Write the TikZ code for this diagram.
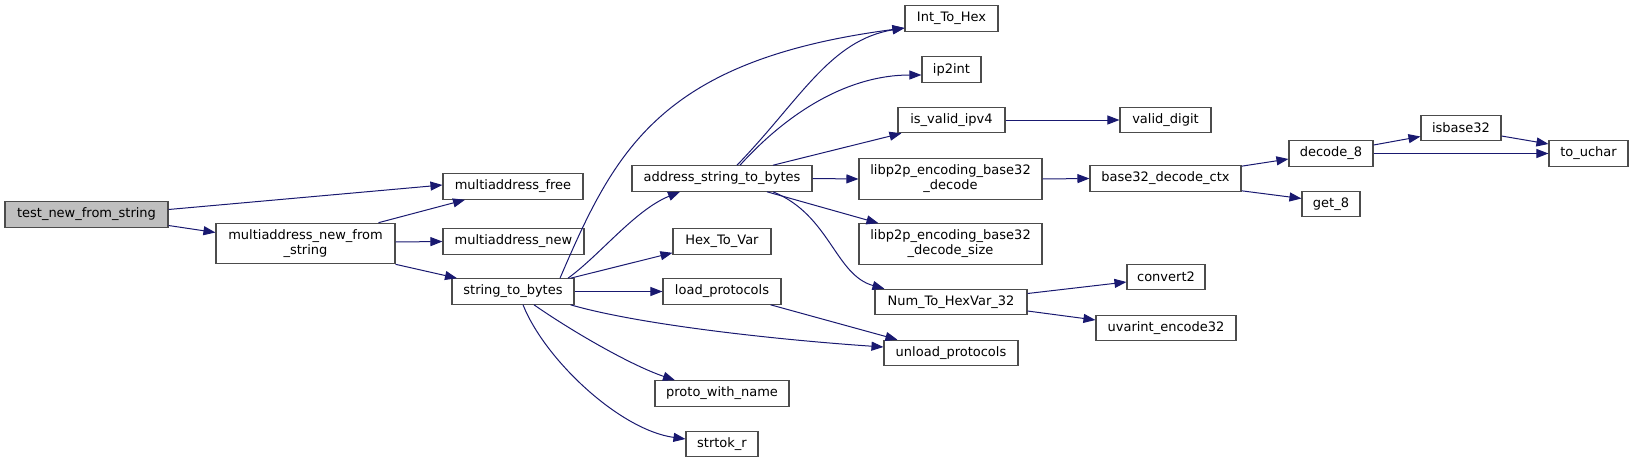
\documentclass[tikz,border=0pt]{standalone}
\usepackage{fontspec}
\setmainfont{DejaVu Sans}
\usepackage{xcolor}
\usetikzlibrary{arrows.meta}
\definecolor{mblue}{RGB}{25,25,112}

\begin{document}
\begin{tikzpicture}[x=1pt,y=-1pt,>={Triangle[length=12pt,width=9pt]},
  fn/.style={draw=black!70,line width=1.1pt,fill=white,inner sep=0pt,minimum height=25.5pt,
    align=center,font=\fontsize{13}{15}\selectfont},
  fn2/.style={fn,minimum height=40.5pt},
  call/.style={->,draw=mblue,line width=1pt}]
  \useasboundingbox (0,0) rectangle (1633,463);
  \node[fn,fill=black!25,minimum width=163pt] (test) at (86.5,214.5) {test\_new\_from\_string};
  \node[fn2,minimum width=179pt] (mnfs) at (305.5,243.5) {multiaddress\_new\_from\\\_string};
  \node[fn,minimum width=140pt] (mfree) at (513,186.5) {multiaddress\_free};
  \node[fn,minimum width=141pt] (mnew) at (513.5,241.5) {multiaddress\_new};
  \node[fn,minimum width=122pt] (stb) at (513,291.5) {string\_to\_bytes};
  \node[fn,minimum width=180pt] (addr) at (722,178.5) {address\_string\_to\_bytes};
  \node[fn,minimum width=98pt] (hex) at (722,241.5) {Hex\_To\_Var};
  \node[fn,minimum width=118pt] (load) at (722,291.5) {load\_protocols};
  \node[fn,minimum width=134pt] (proto) at (722,393.5) {proto\_with\_name};
  \node[fn,minimum width=72pt] (strtok) at (722,444) {strtok\_r};
  \node[fn,minimum width=93pt] (inthex) at (951.5,18.5) {Int\_To\_Hex};
  \node[fn,minimum width=59pt] (ip) at (951.5,69.5) {ip2int};
  \node[fn,minimum width=107pt] (ipv4) at (951.5,120) {is\_valid\_ipv4};
  \node[fn2,minimum width=183pt] (dec) at (950.5,179) {libp2p\_encoding\_base32\\\_decode};
  \node[fn2,minimum width=183pt] (decsize) at (950.5,244) {libp2p\_encoding\_base32\\\_decode\_size};
  \node[fn,minimum width=152pt] (num) at (951,302) {Num\_To\_HexVar\_32};
  \node[fn,minimum width=134pt] (unload) at (951,353) {unload\_protocols};
  \node[fn,minimum width=91pt] (digit) at (1165.5,120) {valid\_digit};
  \node[fn,minimum width=151pt] (ctx) at (1165.5,178.5) {base32\_decode\_ctx};
  \node[fn,minimum width=78pt] (conv) at (1166,277) {convert2};
  \node[fn,minimum width=140pt] (uvar) at (1166,328) {uvarint\_encode32};
  \node[fn,minimum width=84pt] (dec8) at (1331,153.5) {decode\_8};
  \node[fn,minimum width=58pt] (get8) at (1331,204) {get\_8};
  \node[fn,minimum width=80pt] (isb) at (1461,128) {isbase32};
  \node[fn,minimum width=79pt] (uchar) at (1588.5,153.5) {to\_uchar};

  \draw[call] ([yshift=5pt]test.east) -- ([yshift=1.5pt]mfree.west);
  \draw[call] ([yshift=-11pt]test.east) -- ([yshift=11pt]mnfs.west);
  \draw[call] ([xshift=73pt]mnfs.north) -- ([xshift=-48pt]mfree.south);
  \draw[call] ([yshift=1.5pt]mnfs.east) -- (mnew.west);
  \draw[call] (mnfs.south east) -- ([xshift=-56pt]stb.north);
  \draw[call] ([xshift=55pt]stb.north) .. controls (600,255) and (635,210) .. ([xshift=-42pt]addr.south);
  \draw[call] ([xshift=47pt]stb.north) .. controls (615,150) and (660,60) .. ([yshift=-9.5pt]inthex.west);
  \draw[call] ([xshift=-4pt]stb.north east) -- ([yshift=2pt]hex.south west);
  \draw[call] (stb.east) -- (load.west);
  \draw[call] ([xshift=-4pt]stb.south east) .. controls (640,325) and (780,340) .. ([yshift=6pt]unload.west);
  \draw[call] ([xshift=21pt]stb.south) .. controls (570,330) and (630,365) .. ([xshift=-47pt]proto.north);
  \draw[call] ([xshift=10pt]stb.south) .. controls (545,360) and (620,430) .. ([yshift=5pt]strtok.west);
  \draw[call] ([xshift=-11pt]load.south east) -- ([xshift=14pt]unload.north west);
  \draw[call] ([xshift=15pt]addr.north) .. controls (800,100) and (830,40) .. ([yshift=-9.5pt]inthex.west);
  \draw[call] ([xshift=18pt]addr.north) .. controls (790,110) and (850,75) .. ([yshift=-5.5pt]ip.west);
  \draw[call] ([xshift=51pt]addr.north) -- ([xshift=4pt]ipv4.south west);
  \draw[call] (addr.east) -- (dec.west);
  \draw[call] ([xshift=45pt]addr.south) -- ([xshift=20pt]decsize.north west);
  \draw[call] ([xshift=51pt]addr.south) .. controls (830,215) and (835,275) .. ([xshift=10pt]num.north west);
  \draw[call] (ipv4.east) -- (digit.west);
  \draw[call] (dec.east) -- (ctx.west);
  \draw[call] ([yshift=-1pt]ctx.north east) -- ([yshift=-5.5pt]dec8.west);
  \draw[call] ([yshift=1pt]ctx.south east) -- ([yshift=5.5pt]get8.west);
  \draw[call] ([yshift=8.5pt]dec8.east) -- ([yshift=-8.5pt]isb.west);
  \draw[call] (dec8.east) -- (uchar.west);
  \draw[call] ([yshift=-8pt]isb.east) -- ([yshift=9.5pt]uchar.west);
  \draw[call] ([yshift=8.5pt]num.east) -- ([yshift=-5pt]conv.west);
  \draw[call] ([yshift=-9pt]num.east) -- ([yshift=8pt]uvar.west);
\end{tikzpicture}
\end{document}
